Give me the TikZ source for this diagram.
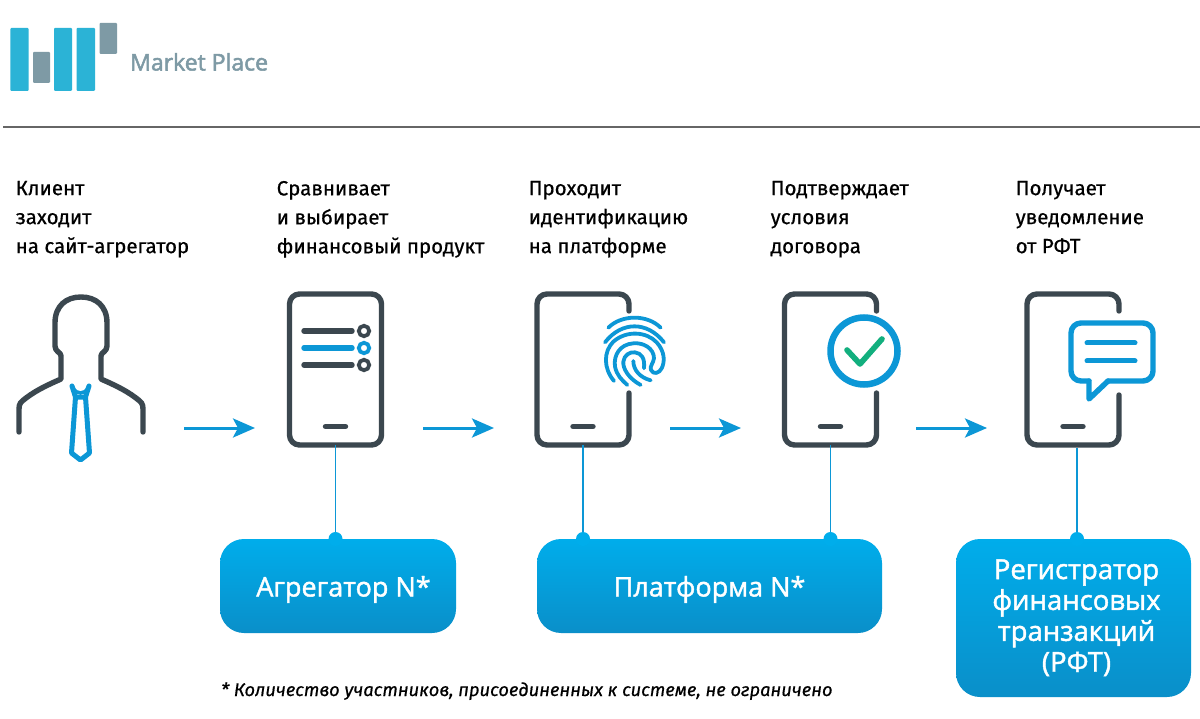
\documentclass[tikz,border=0pt]{standalone}
\usepackage{fontspec}
\setmainfont{Fira Sans}[FakeBold=0.6]
\newfontfamily\boxfont{Open Sans}[FakeBold=1.6]
\newfontfamily\logofont{Open Sans}[FakeBold=2.2]
\usetikzlibrary{arrows.meta}
\definecolor{dark}{HTML}{3B474F}
\definecolor{sky}{HTML}{0C97D6}
\definecolor{logob}{HTML}{2BB3D6}
\definecolor{logog}{HTML}{7E9AA5}
\definecolor{boxtop}{HTML}{00ADEB}
\definecolor{boxbot}{HTML}{0A8FC9}
\definecolor{okgreen}{HTML}{12AF7E}
\tikzset{
  x=1pt,y=-1pt,
  phoneline/.style={draw=dark,line width=5.4pt,line cap=round,line join=round},
  blueline/.style={draw=sky,line width=5pt,line cap=round,line join=round},
  fpline/.style={draw=sky,line width=3.8pt,line cap=round,line join=round},
  flowarrow/.style={draw=sky,line width=3pt,-{Stealth[length=22pt,width=19pt,inset=5pt]}},
  linkline/.style={draw=sky,line width=1.3pt},
  phonebody/.style={minimum width=92pt,minimum height=151pt,inner sep=0pt,outer sep=0pt},
  caption/.style={align=left,anchor=north west,font=\fontsize{20.5}{29}\selectfont,text=black,inner sep=0pt},
  bluebox/.style={rounded corners=24pt,top color=boxtop,bottom color=boxbot,draw=none,text=white,align=center,
    inner sep=0pt,outer sep=0pt,font=\boxfont\fontsize{27}{31}\selectfont},
  logobar/.style={rounded corners=1pt,fill=#1,draw=none},
  dotc/.style={circle,fill=#1,minimum size=14pt,inner sep=0pt},
}
\begin{document}
\begin{tikzpicture}
\useasboundingbox (0,0) rectangle (1200,719);
\fill[white] (0,0) rectangle (1200,719);
% logo
\fill[logobar=logob] (10.3,28) rectangle (28.7,91);
\fill[logobar=logog] (33,52) rectangle (50,83);
\fill[logobar=logob] (54,28) rectangle (72,91);
\fill[logobar=logob] (76.5,28) rectangle (95,91);
\fill[logobar=logog] (99.5,23) rectangle (117,54);
\node[anchor=base west,inner sep=0pt,text=logog] (logo) at (130,70.5) {\logofont\fontsize{23}{26}\selectfont Market Place};
\draw[draw=black!60,line width=1.3pt] (3,127) -- (1200,127);
% captions
\node[caption] (c1) at (15.5,180.8) {Клиент\\заходит\\на сайт-агрегатор};
\node[caption] (c2) at (276.5,180.8) {Сравнивает\\и выбирает\\финансовый продукт};
\node[caption] (c3) at (528.5,180.8) {Проходит\\идентификацию\\на платформе};
\node[caption] (c4) at (770.5,180.8) {Подтверждает\\условия\\договора};
\node[caption] (c5) at (1015.5,180.8) {Получает\\уведомление\\от РФТ};
% person
\node[minimum width=130pt,minimum height=165pt,inner sep=0pt] (person) at (81,380) {};
\draw[phoneline] (19,432) -- (19,409) .. controls (19,403) and (21,402) .. (26,398)
  .. controls (38,389) and (50,384) .. (61,379) -- (61,356) .. controls (61,352) and (55,352) .. (55,346)
  -- (55,323) .. controls (55,306) and (66,297) .. (81,297) .. controls (96,297) and (107,306) .. (107,323)
  -- (107,346) .. controls (107,352) and (101,352) .. (101,356) -- (101,379)
  .. controls (112,384) and (124,389) .. (136,398) .. controls (141,402) and (143,403) .. (143,409) -- (143,432);
\draw[draw=sky,line width=5pt,line cap=round,line join=round]
  (72,386) -- (75.5,397) -- (71.5,453) -- (80.5,460) -- (89.5,453) -- (85.5,397) -- (89,386)
  (75.5,397) -- (85.5,397);
\draw[draw=sky,line width=3.5pt,line cap=round]
  (73,388) .. controls (75,391.5) and (78,393) .. (80.5,393) .. controls (83,393) and (86,391.5) .. (88,388);
% phones
\node[phonebody] (p1) at (335.5,369.5) {};
\node[phonebody] (p2) at (583,369.5) {};
\node[phonebody] (p3) at (830.5,369.5) {};
\node[phonebody] (p4) at (1073,369.5) {};
\draw[phoneline,rounded corners=10pt] (p1.south west) rectangle (p1.north east);
\draw[phoneline,rounded corners=10pt] (p2.east |- 0,311) -- (p2.north east) -- (p2.north west) -- (p2.south west) -- (p2.south east) -- (p2.east |- 0,393);
\draw[phoneline,rounded corners=10pt] (p3.east |- 0,311) -- (p3.north east) -- (p3.north west) -- (p3.south west) -- (p3.south east) -- (p3.east |- 0,393);
\draw[phoneline,rounded corners=10pt] (p4.east |- 0,311) -- (p4.north east) -- (p4.north west) -- (p4.south west) -- (p4.south east) -- (p4.east |- 0,395);
\foreach \n/\cx in {1/335.5,2/583,3/830.5,4/1073}{
  \draw[phoneline] (\cx-10,426.5) -- (\cx+10,426.5);
}
% list icon
\draw[phoneline] (304,331) -- (352,331);
\draw[blueline,line width=5.4pt] (304,348) -- (352,348);
\draw[phoneline] (304,365) -- (352,365);
\draw[draw=dark,line width=3.8pt] (364,331) circle (5.2);
\draw[draw=sky,line width=3.8pt] (364,348) circle (5.2);
\draw[draw=dark,line width=3.8pt] (364,365) circle (5.2);
% fingerprint
\begin{scope}[shift={(590,305)},x=0.3333pt,y=-0.3333pt]
\draw[fpline] (55,68) .. controls (95,28) and (172,28) .. (212,68);
\draw[fpline] (45,112) .. controls (95,48) and (172,48) .. (222,112);
\draw[fpline] (72,228) .. controls (40,190) and (40,140) .. (70,110) .. controls (110,75) and (170,80) .. (200,112)
  .. controls (225,140) and (225,170) .. (215,190) .. controls (208,205) and (190,210) .. (183,195)
  .. controls (178,185) and (190,175) .. (192,160) .. controls (192,130) and (160,112) .. (130,115)
  .. controls (90,118) and (70,150) .. (75,185) .. controls (80,210) and (95,225) .. (112,240);
\draw[fpline] (152,240) .. controls (115,220) and (98,190) .. (100,170) .. controls (102,150) and (120,140) .. (135,142)
  .. controls (155,145) and (165,160) .. (162,190);
\draw[fpline] (130,168) .. controls (130,195) and (150,218) .. (182,226);
\end{scope}
% check icon
\draw[draw=sky,fill=white,line width=6.5pt] (864,351) circle (33.5);
\draw[draw=okgreen,line width=5.6pt,line cap=round,line join=round] (847,350) -- (860,364) -- (882,339);
% message icon
\draw[blueline,fill=white,line width=5.4pt,rounded corners=10pt] (1108,381) -- (1153,381) -- (1153,323) -- (1071,323) -- (1071,381) -- (1089,381);
\draw[blueline,fill=white,line width=5.4pt] (1089,381) -- (1089,399) -- (1108,381);
\draw[blueline] (1087,343) -- (1135,343);
\draw[blueline] (1087,361) -- (1135,361);
% boxes
\node[bluebox,minimum width=236pt,minimum height=94pt,text height=19pt,text depth=0pt] (b1) at (338,586) {\hspace*{11pt}\raisebox{-1pt}{Агрегатор N*}};
\node[bluebox,minimum width=345pt,minimum height=94pt,text height=19pt,text depth=0pt] (b2) at (709.5,586) {\raisebox{-1pt}{Платформа N*}};
\node[bluebox,minimum width=235pt,minimum height=158pt,font=\boxfont\fontsize{27.5}{31}\selectfont] (b3) at (1073.5,618) {\hspace*{6pt}\raisebox{-7.4pt}[0pt][0pt]{\begin{tabular}{@{}c@{}}Регистратор\\[-0.1pt]финансовых\\[-0.1pt]транзакций\\[-0.1pt](РФТ)\end{tabular}}};
% connectors
\coordinate (l4) at (1077,448);
\draw[linkline] (p1.south) -- (p1.south |- b1.north);
\draw[linkline] (p2.south) -- (p2.south |- b2.north);
\draw[linkline] (p3.south) -- (p3.south |- b2.north);
\draw[linkline] (l4) -- (l4 |- b3.north);
\node[dotc=boxtop] (d1) at (p1.south |- b1.north) {};
\node[dotc=boxtop] (d2) at (p2.south |- b2.north) {};
\node[dotc=boxtop] (d3) at (p3.south |- b2.north) {};
\node[dotc=boxtop] (d4) at (l4 |- b3.north) {};
% arrows
\draw[flowarrow,shorten <=38pt,shorten >=34.5pt] (person.east |- p1.center) ++(0,58.5) coordinate (a0) -- (p1.west |- a0);
\draw[flowarrow,shorten <=41.5pt,shorten >=43pt] (p1.east |- a0) -- (p2.west |- a0);
\draw[flowarrow,shorten <=41pt,shorten >=43.5pt] (p2.east |- a0) -- (p3.west |- a0);
\draw[flowarrow,shorten <=39.5pt,shorten >=40pt] (p3.east |- a0) -- (p4.west |- a0);
% footnote
\node[anchor=base west,inner sep=0pt,text=black] (note) at (221,696) {\fontsize{18.3}{22}\selectfont\itshape * Количество участников, присоединенных к системе, не ограничено};
\end{tikzpicture}
\end{document}
